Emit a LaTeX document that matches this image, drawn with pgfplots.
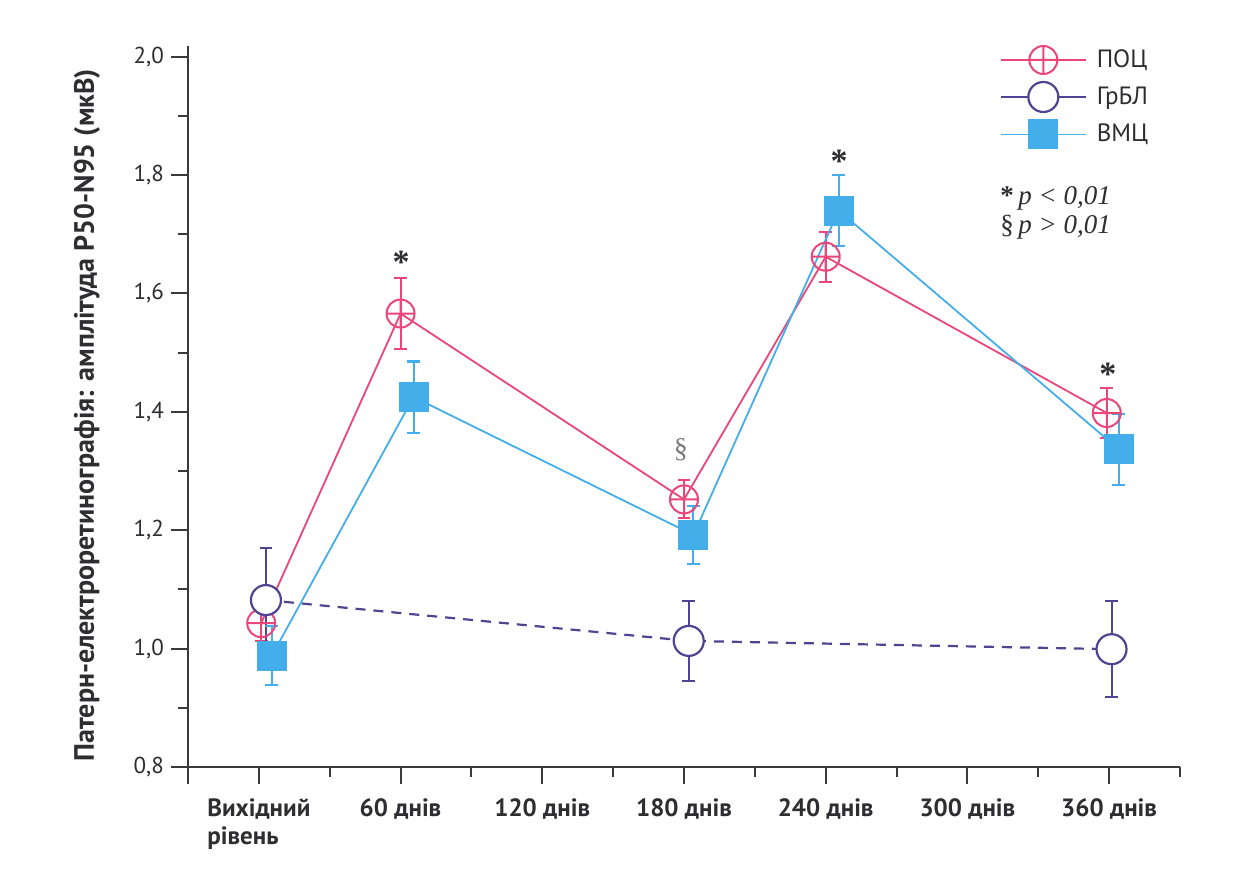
\documentclass[border=0pt]{standalone}
\usepackage{pgfplots}
\usepackage{pgfplotstable}
\pgfplotsset{compat=1.18}
\usepackage{fontspec}
\setmainfont{PT Sans}
\newfontfamily\seriffont{Liberation Serif}
\usetikzlibrary{plotmarks}

\definecolor{poc}{RGB}{234,70,122}
\definecolor{grbl}{RGB}{78,68,145}
\definecolor{vmc}{RGB}{68,174,234}
\definecolor{axisgray}{RGB}{58,58,62}
\definecolor{txt}{RGB}{45,45,50}

% days, mean, error
\pgfplotstableread{
x     y      e
1     1.043  0.030
60    1.566  0.060
180   1.252  0.032
240   1.662  0.042
359   1.398  0.042
}\pocdata
\pgfplotstableread{
x     y      e
3     1.082  0.088
182   1.013  0.068
361   0.999  0.081
}\grbldata
\pgfplotstableread{
x     y      e
5.5   0.988  0.050
65.5  1.425  0.060
184   1.192  0.049
245.5 1.740  0.060
364   1.337  0.060
}\vmcdata

\begin{document}
\begin{tikzpicture}
\useasboundingbox (0,0) rectangle (623pt,438pt);
\begin{axis}[
  at={(94pt,54.5pt)}, anchor=south west,
  scale only axis, width=496pt, height=360.5pt,
  xmin=-30, xmax=390, ymin=0.8, ymax=2.018,
  axis x line*=bottom, axis y line*=left,
  axis line style={draw=axisgray, line width=1pt, -},
  every tick/.style={draw=axisgray, line width=1pt},
  tick align=outside,
  major tick length=8.5pt, minor tick length=5pt,
  xtick={-30,0,60,120,180,240,300,360},
  xticklabels={,{Вихідний\\рівень},60 днів,120 днів,180 днів,240 днів,300 днів,360 днів},
  minor xtick={30,90,150,210,270,330,390},
  ytick={0.8,1.0,1.2,1.4,1.6,1.8,2.0},
  minor ytick={0.9,1.1,1.3,1.5,1.7,1.9},
  /pgf/number format/use comma,
  /pgf/number format/fixed,
  /pgf/number format/fixed zerofill,
  /pgf/number format/precision=1,
  /pgf/number format/assume math mode=true,
  y tick label style={font=\fontsize{11.5}{13}\selectfont, text=txt},
  x tick label style={font=\bfseries\fontsize{12.5}{14}\selectfont, text=txt, align=left, anchor=north, yshift=-4pt},
  ylabel={Патерн-електроретинографія: амплітуда P50-N95 (мкВ)},
  ylabel style={font=\bfseries\fontsize{14}{16}\selectfont, text=txt, at={(axis description cs:-0.1018,0.488)}, anchor=center},
  legend image code/.code={\draw[mark repeat=2,mark phase=2] plot coordinates {(0pt,0pt) (21.25pt,0pt) (42.5pt,0pt)};},
  legend style={draw=none, fill=none, inner sep=0pt, outer sep=0pt,
    at={(axis description cs:0.8185,1.0)}, anchor=north west,
    row sep=4pt, nodes={inner sep=0pt, text=txt},
    font=\fontsize{12.5}{14}\selectfont,
    /tikz/every odd column/.style={column sep=5pt}},
  legend cell align=left,
  clip=false,
]
% error bars first, so that the markers sit on top of them
\addplot[forget plot, draw=none, poc, error bars/.cd, y dir=both, y explicit,
  error bar style={line width=1pt, poc},
  error mark options={rotate=90, mark size=3.2pt, line width=1pt, poc}]
  table[x=x, y=y, y error=e] {\pocdata};
\addplot[color=poc, line width=0.9pt, mark=oplus, mark size=7pt,
  mark options={fill=white, line width=1pt}]
  table[x=x, y=y] {\pocdata};
\addlegendentry{ПОЦ}

\addplot[forget plot, draw=none, grbl, error bars/.cd, y dir=both, y explicit,
  error bar style={line width=1pt, grbl},
  error mark options={rotate=90, mark size=3.2pt, line width=1pt, grbl}]
  table[x=x, y=y, y error=e] {\grbldata};
\addplot[color=grbl, line width=1.1pt, dash pattern=on 5pt off 4pt, mark=*, mark size=7.5pt,
  mark options={solid, fill=white, line width=1.1pt},
  legend image code/.code={\draw[solid, line width=0.9pt, mark repeat=2,mark phase=2] plot coordinates {(0pt,0pt) (21.25pt,0pt) (42.5pt,0pt)};}]
  table[x=x, y=y] {\grbldata};
\addlegendentry{ГрБЛ}

\addplot[forget plot, draw=none, vmc, error bars/.cd, y dir=both, y explicit,
  error bar style={line width=1pt, vmc},
  error mark options={rotate=90, mark size=3.2pt, line width=1pt, vmc}]
  table[x=x, y=y, y error=e] {\vmcdata};
\addplot[color=vmc, line width=0.9pt, mark=square*, mark size=7.25pt,
  mark options={fill=vmc, draw=vmc, line width=0pt}]
  table[x=x, y=y] {\vmcdata};
\addlegendentry{ВМЦ}

% significance marks
\node[anchor=north, inner sep=0pt, text=txt, font=\seriffont\bfseries\fontsize{17}{17}\selectfont] at (axis cs:60.2,1.672) {*};
\node[anchor=north, inner sep=0pt, text=txt, font=\seriffont\bfseries\fontsize{17}{17}\selectfont] at (axis cs:245.7,1.843) {*};
\node[anchor=north, inner sep=0pt, text=txt, font=\seriffont\bfseries\fontsize{17}{17}\selectfont] at (axis cs:359.5,1.483) {*};
\node[anchor=north, inner sep=0pt, text={rgb,255:red,120;green,120;blue,125}, font=\seriffont\fontsize{14}{14}\selectfont] at (axis cs:178.7,1.356) {§};

% p-value key
\node[anchor=base west, inner sep=0pt, text=txt, font=\seriffont\fontsize{13.5}{15}\selectfont, align=left]
  at (axis description cs:0.8185,0.78) {{\bfseries*}\,\textit{p} \textit{< 0,01}};
\node[anchor=base west, inner sep=0pt, text=txt, font=\seriffont\fontsize{13.5}{15}\selectfont, align=left]
  at (axis description cs:0.8185,0.74) {§\,\textit{p} \textit{> 0,01}};
\end{axis}
\end{tikzpicture}
\end{document}
